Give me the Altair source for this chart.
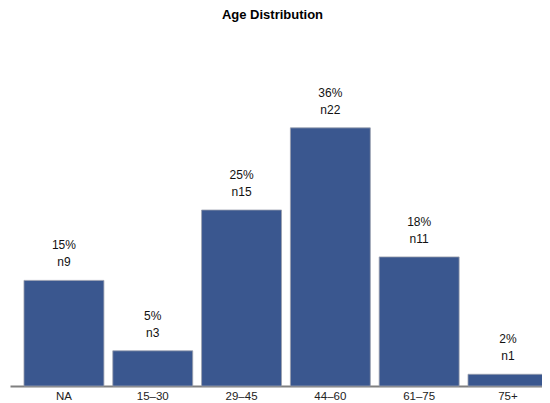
import altair as alt
import pandas as pd

categories = ["NA", "15\u201330", "29\u201345", "44\u201360", "61\u201375", "75+"]
counts = [9, 3, 15, 22, 11, 1]
pct_labels = ["15%", "5%", "25%", "36%", "18%", "2%"]
n_labels = ["n9", "n3", "n15", "n22", "n11", "n1"]

df = pd.DataFrame({"cat": categories, "n": counts, "pct": pct_labels, "nl": n_labels})

FONT = "Liberation Sans"

x = alt.X("cat:N", sort=categories, title=None,
          scale=alt.Scale(paddingInner=0.1, paddingOuter=0.096, align=0.82),
          axis=alt.Axis(labelAngle=0, ticks=False, domainColor="#808080", domainWidth=2,
                        labelFont=FONT, labelFontSize=11.5, labelColor="#222222",
                        labelPadding=4))
y = alt.Y("n:Q", title=None, scale=alt.Scale(domain=[0, 30], nice=False), axis=None)

base = alt.Chart(df).encode(x=x, y=y)

bars = base.mark_bar(color="#3a578f", stroke="#9aa0ad", strokeWidth=0.8)
pct = base.mark_text(dy=-35, font=FONT, fontSize=12, color="#111111").encode(text="pct:N")
nn = base.mark_text(dy=-18, font=FONT, fontSize=12, color="#111111").encode(text="nl:N")

chart = (bars + pct + nn).properties(
    width=541, height=352,
    autosize=alt.AutoSizeParams(type="none"),
    padding={"left": 2, "top": 26, "right": -9, "bottom": 17},
    title=alt.TitleParams("Age Distribution", font=FONT, fontSize=13, fontWeight="bold",
                          color="#000000", offset=12, dx=-8),
).configure_view(stroke=None)

chart.save("out.html", embed_options={"renderer": "svg", "actions": False})
